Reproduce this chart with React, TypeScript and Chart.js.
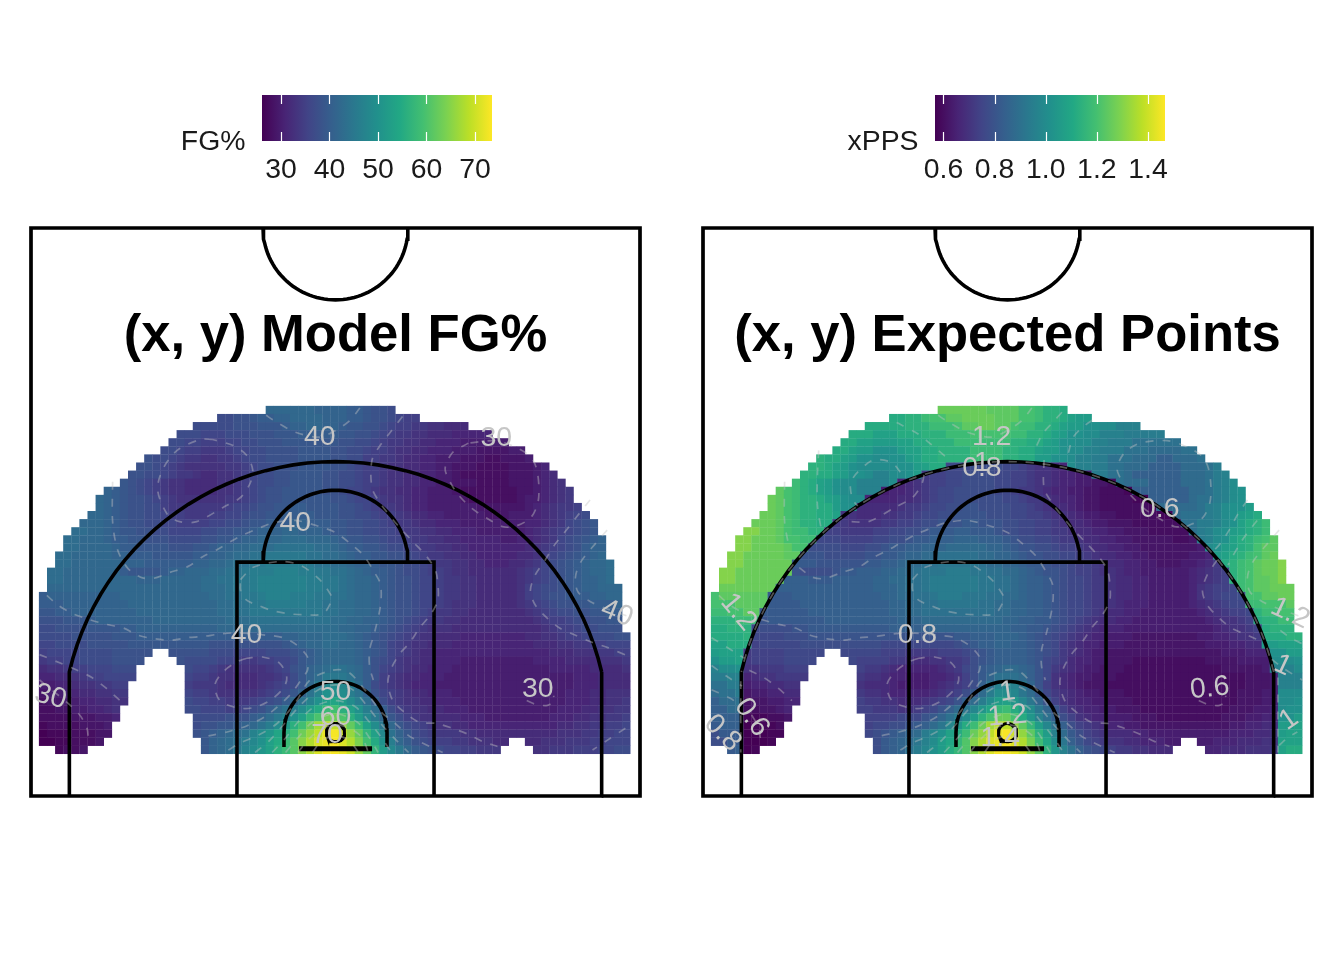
import React, { useEffect, useRef } from "react";
import { Chart, registerables } from "chart.js";

Chart.register(...registerables);

const FONT = "'Liberation Sans', Arial, sans-serif";

// one letter per heat cell: "." = no shots, otherwise an index into LEVELS
const LEVELS = "abcdefghijklmnopqrstuvwxyzABCDEFGHIJKLMNOPQRSTUV";
const fgBase = 26;
const fgStep = 1;
const xppsBase = 0.52;
const xppsStep = 0.02;

const fgRows = [
  ".......... .......... ........qq qqqqppppoo nmml...... .......... .......... ...",
  ".......... .......... ..llmmnoop pqqqqpppoo nmmlkjj... .......... .......... ...",
  ".......... .........l llllmmmnnn oppqqpponn mmlkjjiihh ggg....... .......... ...",
  ".......... .......lll kkklllmmmn nnooooonnm mlkjiihhgg gfffff.... .......... ...",
  ".......... ......llkk jjjkkllmmm nnnnnnnmml lkjiihhggf ffeeeeee.. .......... ...",
  ".......... .....llkjj iiijkkllmm mmnnnnmmll kjjihhggff feeeddddee .......... ...",
  ".......... ...mllkjii hhiijkllmm mmnnnnmmll jjiihggffe eedddccddd e......... ...",
  ".......... ..mmlkjihh hhhiijkllm mmnnnnmmlk jjihhggffe edddccccdd def....... ...",
  ".......... .mmllkjiih gghhijkllm mnnnnmmllk jjihhggffe edccccccdd defg...... ...",
  ".......... nmlkjihhgg gghhijkllm mnnnnmmllk jjihhggffe edddccccdd defgh..... ...",
  "........po nmlkjihhgg gghhijklmm nnnnnmmlkk jihhggffee edcccccccd defghi.... ...",
  ".......qpo nmmlkjihhh hhhiijklmm nnnnnnmmlk kjihhgffee eedccccccd eefghi.... ...",
  ".......qpo nmmlljiiii iiijkklmmn noonnnnmml kjiihgffee eeeedddddd efghiij... ...",
  "......qqpo nmmllkjjii ijjkklmmnn oooonnnmml lkjjihggff eeeeedddee efghijkl.. ...",
  ".....qqqpo nmmllkkjjj jkkllmnnoo oppooonnmm llkjiihggf ffeeeeeeee ffghiklmn. ...",
  "....rrqqpo nnmmllkkkk llmmnnoppp qqppponnmm llkkjiihhg gfffeeeeee fghijklmn. ...",
  "...rrqqqpo onnmmmllll mmnnoppqqq rrrqqqponn mmlkkjiihh ggfffffeef fghiklmnop ...",
  "...rrqqqqp oonnnnmmmn noppqqrrrs ssssrrqpoo nnmllkjiih hggfffffff ghijklmopp ...",
  "..rrqqqqqp pooonnnnno oppqrrsstt tttssrrqpo onnmmlkjii hhggfffffg ghjklmnopq ...",
  "..rrqqqqqq pppoooooop pqqrssttuu uuutssrrqp ponnmllkji ihhggfffgg hiklmnopqq r..",
  ".rrqqqqqqq onnnnoppqq qrrsstuuuv vvuuttssrq poonmllkjj ihhggggggh ijklmnopqq r..",
  ".rrqqqqqqq qqpppqqqqq rrssttuvvv vvvuuttsrq qponmmlkkj iihhgggggh ijklmnoppq r..",
  ".qqqqqqqqq qqqqqqqqqq rrrsttuvvv vvvuuttsrq qponmmlkkj iihhgggggh jkllmnoppq qq.",
  "oppppppppp qqqqqqqqqq qrrssttuvv vuuuttssrq qponmmlkkj iihhgggggh jklmmnoopp qq.",
  "oooppppppp pqqqqqqqqq qqrrssttuu uuuttssrrq qponmmlkkj ihhhgggggh ijklmmnnoo op.",
  "nnoopppppp ppqqqqqqqq qqrrsstttt tttttssrrq qponmmlkji ihhggggggg hijkllmmnn oo.",
  "mmmnnnoppp ppppqqqqqq qqqrrrssss ssssssrrqq pponmlkjii hhgggggggg ghijjkllmm nn.",
  "llmmmmnnnn oopppppppp ppqqqqqrrr rrrrrrrqqp ponmlkjihh hggggggggg gghijjkllm mm.",
  "llllmmmmmn nnoooooooo oooooooooo ppqqqrrrqp onmlkjihhg ggffffffff gghhijjkll lmm",
  "kkllllmmmm mnnnnnnnnn nmmmmmmmmm nopqqrrqqp onmkjihhgg gfffffffff fggghhiijj kkk",
  "jkkkkllllm mmmm..mmmm mlllkkkkll lmnopqqqqp onmkjihggf ffffffffff fffggghhhi ijj",
  "ijjkkllllm mmm....mll llkkjiijjk klnopqqqqp omlkihhggf ffeeeeeeee effffggggh hhi",
  "ghhijjkkkl ll......lk kjihhhhhij kmnpqrssrq omkjihggff feeeeeeeee eeefffffgg ggh",
  "ffgghijjkk kk......kj jihhggghhi jlnprtttsq omjihggfff eeeeeeeeee eeeeeefffg ggg",
  "eeffghhiij j.......ji iihgggghij klnqtwxwur oljihgfffe eeeeeeeeee eeeeeefffg ggg",
  "deeffgghhi i.......kj jihhhhhijk lnpsvyyxus pmkjihggff feeeeeeeee eeeeefffgg hhh",
  "cddeeffggh h.......lk kjjiiijklm oqsvyBCAxu roljihhggf ffeeeeeeee eeeeefffgg hhi",
  "ccddeeffgh ........ll kkkjjklmoq suxADGHEBy uroljihhgg fffeeeeeee eeeefffggh hii",
  "ccccdddeef .........l lllmmmoprt vyBFILLIEA wtqnljihhg ggfffeeeee eeefffgghh iij",
  "bccccddde. .........l mmnnopqsux AEHLPRROKG Bxtqnlkjih hggfffffff ffffgghhii jjk",
  "abbbcccdd. .........m nopqrsvxzC EHLORUVSOK FBwspnlkji iihhgggggg gggghhhiij jkk",
  "aabbcccd.. .......... npqrsuwyBD GJNQTUVTQM HDyuqomlkj jiihhhgg.. gghhhiiijj kkk",
  "..bccd.... .......... npqrtvxzBE GJNQTVVUSO KFAwtqonml kkjjiii... .hhiiijjjk kll",
];

const xppsRows = [
  ".......... .......... ........LL LLLLKKKKII HFFE...... .......... .......... ...",
  ".......... .......... ..EEFFHIIK KLLLLKKKII HFFECBB... .......... .......... ...",
  ".......... .........E EEEEFFFHHH IKKLLKKIHH FFECBBzzyy www....... .......... ...",
  ".......... .......EEE CCCEEEFFFH HHIIIIIHHF FECBzzyyww wvvvvv.... .......... ...",
  ".......... ......EECC BBBCCEEFFF HHHHHHHFFE ECBzzyywwv vvtttttt.. .......... ...",
  ".......... .....EECBB zzzBCCEEFF FFHHHHFFEE CBBzyywwvv vtttsssstt .......... ...",
  ".......... ...FEECBzz yyzzBCEEFF FFHHHHFFEE BBzzywwvvt ttsssqqsss t......... ...",
  ".......... ..FFECBzyy yyyzzBCEEm mmnnnnmmlk jjihywwvvt tsssqqqqss stv....... ...",
  ".......... .FFEECBzzy wwyyzBkllm mnnnnmmllk jjihhggvvt tsqqqqqqss stvw...... ...",
  ".......... HFECBzyyww wwyhijkllm mnnnnmmllk jjihhggffe tsssqqqqss stvwy..... ...",
  "........KI HFECBzyyww wghhijklmm nnnnnmmlkk jihhggffee edqqqqqqqs stvwyz.... ...",
  ".......LKI HFFECBzyyh hhhiijklmm nnnnnnmmlk kjihhgffee eedcqqqqqs ttvwyz.... ...",
  ".......LKI HFFEEBzzii iiijkklmmn noonnnnmml kjiihgffee eeeedsssss tvwyzzB... ...",
  "......LLKI HFFEECjjii ijjkklmmnn oooonnnmml lkjjihggff eeeeeddstt tvwyzBCE.. ...",
  ".....LLLKI HFFEEkkjjj jkkllmnnoo oppooonnmm llkjiihggf ffeeeeeett vvwyzCEFH. ...",
  "....NNLLKI HHFFllkkkk llmmnnoppp qqppponnmm llkkjiihhg gfffeeeeet vwyzBCEFH. ...",
  "...NNLLLKI IHHmmmllll mmnnoppqqq rrrqqqponn mmlkkjiihh ggfffffeef vwyzCEFHIK ...",
  "...NNLLLLK IInnnnmmmn noppqqrrrs ssssrrqpoo nnmllkjiih hggfffffff gyzBCEFIKK ...",
  "..NNLLLLLK Kooonnnnno oppqrrsstt tttssrrqpo onnmmlkjii hhggfffffg ghBCEFHIKL ...",
  "..NNLLLLLL pppoooooop pqqrssttuu uuutssrrqp ponnmllkji ihhggfffgg hikEFHIKLL N..",
  ".NNLLLLLLL onnnnoppqq qrrsstuuuv vvuuttssrq poonmllkjj ihhggggggh ijklFHIKLL N..",
  ".NNLLLLLLq qqpppqqqqq rrssttuvvv vvvuuttsrq qponmmlkkj iihhgggggh ijklFHIKKL N..",
  ".LLLLLLLqq qqqqqqqqqq rrrsttuvvv vvvuuttsrq qponmmlkkj iihhgggggh jkllmHIKKL LL.",
  "IKKKKKKppp qqqqqqqqqq qrrssttuvv vuuuttssrq qponmmlkkj iihhgggggh jklmmnIIKK LL.",
  "IIIKKKKppp pqqqqqqqqq qqrrssttuu uuuttssrrq qponmmlkkj ihhhgggggh ijklmmHHII IK.",
  "HHIIKKpppp ppqqqqqqqq qqrrsstttt tttttssrrq qponmmlkji ihhggggggg hijkllmFHH II.",
  "FFFHHHoppp ppppqqqqqq qqqrrrssss ssssssrrqq pponmlkjii hhgggggggg ghijjklEFF HH.",
  "EEFFFmnnnn oopppppppp ppqqqqqrrr rrrrrrrqqp ponmlkjihh hggggggggg gghijjklEF FF.",
  "EEEEFmmmmn nnoooooooo oooooooooo ppqqqrrrqp onmlkjihhg ggffffffff gghhijjkEE EFF",
  "CCEEElmmmm mnnnnnnnnn nmmmmmmmmm nopqqrrqqp onmkjihhgg gfffffffff fggghhiiBB CCC",
  "BCCCkllllm mmmm..mmmm mlllkkkkll lmnopqqqqp onmkjihggf ffffffffff fffggghhhz zBB",
  "zBBCkllllm mmm....mll llkkjiijjk klnopqqqqp omlkihhggf ffeeeeeeee effffggggy yyz",
  "wyyzjjkkkl ll......lk kjihhhhhij kmnpqrssrq omkjihggff feeeeeeeee eeefffffgw wwy",
  "vvwwhijjkk kk......kj jihhggghhi jlnprtttsq omjihggfff eeeeeeeeee eeeeeefffg www",
  "ttvvghhiij j.......ji iihgggghij klnqtwxwur oljihgfffe eeeeeeeeee eeeeeefffg www",
  "sttvfgghhi i.......kj jihhhhhijk lnpsvyyxus pmkjihggff feeeeeeeee eeeeefffgg yyy",
  "qssteffggh h.......lk kjjiiijklm oqsvyBCAxu roljihhggf ffeeeeeeee eeeeefffgg yyz",
  "qqsseeffgh ........ll kkkjjklmoq suxADGHEBy uroljihhgg fffeeeeeee eeeefffggh yzz",
  "qqqqdddeef .........l lllmmmoprt vyBFILLIEA wtqnljihhg ggfffeeeee eeefffgghh zzB",
  "pqqqcddde. .........l mmnnopqsux AEHLPRROKG Bxtqnlkjih hggfffffff ffffgghhii BBC",
  "npppcccdd. .........m nopqrsvxzC EHLORUVSOK FBwspnlkji iihhgggggg gggghhhiij BCC",
  "nnppcccd.. .......... npqrsuwyBD GJNQTUVTQM HDyuqomlkj jiihhhgg.. gghhhiiijj CCC",
  "..pqcd.... .......... npqrtvxzBE GJNQTVVUSO KFAwtqonml kkjjiii... .hhiiijjjk CEE",
];

// heat grid in court feet
const gridLeft = -24.34;
const gridTop = 32.27;
const cellW = 0.665;
const cellH = 0.6694;

// colour scales
const viridis = ["#440154", "#482475", "#414487", "#355F8D", "#2A788E", "#21908C", "#22A884", "#43BF71", "#7AD151", "#BBDF27", "#FDE725"];
const fgRange = [26.1, 73.5];
const xppsRange = [0.567, 1.4665];
const fgTicks = [30, 40, 50, 60, 70];
const xppsTicks = [0.6, 0.8, 1.0, 1.2, 1.4];

// contour paths, court feet
const c30Right = [[10.9,29.2],[9.6,28.4],[9,27.1],[9.4,26],[10.1,24.9],[11.2,23.8],[12.4,23],[13.7,22.3],[14.7,22.3],[16,23],[16.6,24.2],[16.7,25.6],[16.5,27.1],[16,28.1],[14.7,28.9],[13.1,29.4],[10.9,29.2]];
const c35Left = [[-10.1,29.5],[-11.1,29.5],[-13,28.6],[-14.2,27],[-14.6,25.3],[-13.8,23.3],[-12.8,22.7],[-11.4,22.7],[-9.2,23.9],[-7.8,24.7],[-7,25.9],[-6.8,27],[-7.3,28.2],[-8.4,29],[-10.1,29.5]];
const c45Key = [[-7.8,17.9],[-6.8,18.9],[-4.6,19.4],[-2.9,19.1],[-1.3,17.9],[-0.3,16.5],[-0.3,16.2],[-1,15.1],[-2.7,15],[-4,15.1],[-5.4,15.4],[-6.4,15.8],[-7.3,16.2],[-7.8,17],[-7.8,17.9]];
const c35Mid = [[-7.3,11.4],[-8.1,11.1],[-9.2,10.3],[-9.9,9.2],[-9.5,7.9],[-8.1,7.3],[-6.8,7.3],[-5.4,7.9],[-4.3,8.9],[-4,9.8],[-4.6,11],[-6,11.5],[-7.3,11.4]];
const c40Upper = [[-18.3,26],[-18.3,22.7],[-17.9,20.4],[-17.1,18.9],[-16,18.1],[-15,18],[-13.6,18.5],[-12.1,19],[-10.9,19.8],[-9.7,20.4],[-8.7,21],[-7.6,21.6],[-6.2,22.2],[-5.1,22.6],[-3.3,22.8],[-1.3,22.3],[0,21.8],[1.2,20.9],[2.3,19.9],[3.2,18.5],[3.7,17.5],[3.7,15.8],[3.2,13.5],[2.8,12.1],[2.8,10.7],[3.1,9.6]];
const c40Top = [[-5.7,31.5],[-5.1,31.1],[-3.3,30.1],[-1.3,29.7],[0.1,30.3],[1.2,31.1],[2,32.1]];
const c35Right = [[5.5,31.4],[4.5,30.1],[3.8,29.2],[3,27.8],[3,25.5],[3.7,24.2],[5.1,22.4],[6.4,21],[7.5,19.8],[8.2,18.7],[8.4,17.6],[8.4,16.2],[7.8,15],[6.9,13.9],[6.1,12.7],[5.3,11.8],[4.6,10.6],[4.3,9.4],[4.7,7.9],[5.7,6.9],[6.9,6.1],[8.3,6],[9.6,5.6],[10.9,5.1],[12.1,4.5],[13.3,4.1]];
const c35Side = [[20.9,24.5],[19.8,23.1],[18.8,21.8],[18,20.8],[17.2,19.5],[16.4,18.3],[16,17],[16.4,15.8],[17.4,14.7],[18.4,13.9],[19.7,13.3],[21.1,12.7],[22.3,12.3],[24.2,11.5]];
const c40Side = [[22.3,22],[21.1,20.6],[20.1,19.3],[19.7,18.1],[19.9,16.9],[20.9,16.1],[22,15.6],[24.2,14.8]];
const c40Lower = [[-23.7,16.6],[-22.8,15.8],[-21.6,15.1],[-20.2,14.6],[-18.8,14.2],[-17.4,13.9],[-16.2,13.3],[-14.8,13],[-13.4,12.9],[-12.2,13.1],[-10.9,13.2],[-9.5,13.4],[-8.1,13.5],[-5.6,13.3],[-4.3,13.1],[-3.2,12.5],[-2.3,11.5],[-2.3,10.4],[-2.7,9.8],[-3.7,8.4],[-5.6,6.7],[-7.3,5.8],[-8.9,5.3],[-10.3,5],[-11.1,4.8]];
const c35Corner = [[-24.3,11.7],[-22.6,11],[-21.2,10.4],[-20,9.8],[-18.8,8.9],[-17.7,7.9]];
const c30Corner = [[-24.3,9.6],[-22,7.7],[-21,6.7],[-20.4,5.6],[-20.3,4.8]];
const c30Small = [[15.7,7.9],[16.4,7.6],[17.4,7.5],[18,7.9],[17.9,8.3]];
const c35Base = [[23.8,5.6],[22.3,4.6],[21.1,3.8]];
const ring45 = [[-8.8,3.8],[-7.8,4.4],[-6.4,5],[-4.8,6],[-3.3,7.7],[-2.1,9.6],[-0.3,10.4],[1,10.3],[2.4,8.8],[3.7,7],[4.9,6],[6,5],[6.9,4.5],[8.8,3.6]];
const ring50 = [[-6.6,3.6],[-5.4,4.6],[-4.1,6.1],[-2.9,7.5],[-1.4,8.8],[0,9.2],[1.4,8.8],[2.7,7.3],[3.8,5.9],[5.1,4.5],[6,3.6]];
const ring55 = [[-5.2,3.6],[-4.1,4.8],[-3.1,6.1],[-1.7,7.4],[0,7.9],[1.6,7.4],[2.8,6.1],[3.8,4.8],[4.6,3.6]];
const ring60 = [[-4.1,3.6],[-3.1,4.8],[-1.9,6.1],[0,6.8],[1.8,6.1],[2.8,4.8],[3.5,3.6]];
const ring65 = [[-3.1,3.6],[-2.1,4.8],[-1.1,5.6],[0,5.9],[1.2,5.6],[2.2,4.8],[2.7,3.6]];
const ring70 = [[-1.9,3.6],[-1.1,4.6],[0,5],[1.1,4.6],[1.9,3.6]];

// contours that exist only on the expected-points surface
const x110TopLeft = [[-9.1,30.9],[-7.4,30],[-6.4,29.2],[-5.1,28.1]];
const x110TopRight = [[2.4,29],[2.9,30],[3.7,30.9],[4.6,31.9]];
const x100TopRight = [[5,28.4],[5.4,29.7],[6.4,30.7],[7.3,31.3]];
const x100Right = [[19.7,24.5],[18.9,23.3],[18.2,22],[17.4,20.8],[16.6,20]];
const x110Right = [[20.5,22.8],[19.7,21.8],[19.1,20.9],[18.3,19.5],[18.1,19.1]];
const x100Left = [[-8.8,26.8],[-9.5,27.6],[-11,27.8],[-12.3,26.8],[-12.8,26.1],[-12.9,25.5],[-12.7,24.5],[-12.3,24]];
const x110Left = [[-15.5,28.6],[-15.6,26.7],[-15.6,24],[-15.2,21.6]];
const x110LowLeft = [[-24.3,13.1],[-22.4,11.9],[-21.6,11.4]];
const x100LowLeft = [[-24.3,10.8],[-22.9,9.8],[-21.8,9.1]];
const x090LowLeft = [[-24.3,8.8],[-22.8,8.1],[-21.9,7.5]];
const x110LowRight = [[22.4,13.7],[23.2,13.1],[24.2,12.6]];
const x100LowRight = [[21.7,11.3],[22.6,10.6],[24.2,9.6]];
const x100Base = [[22.3,4.2],[23.1,4.9],[23.8,5.3]];
const edgeRight = [[22.2,9.8],[22.2,3.6]];
const edgeLeft = [[-21.9,9.5],[-21.9,3.6]];

const fgContours = [c30Right, c35Left, c45Key, c35Mid, c40Upper, c40Top, c35Right, c35Side, c40Side, c40Lower, c35Corner, c30Corner, c30Small, c35Base, ring45, ring50, ring55, ring60, ring65, ring70];

// contour labels: text, x ft, y ft, rotation degrees
const fgLabels = [
  ["40", -1.3, 29.7, 0], ["30", 13.2, 29.6, 0], ["40", -3.3, 22.6, 0], ["40", 23.1, 15.1, 22], ["40", -7.3, 13.3, 0],
  ["30", -23.4, 8.2, 15], ["30", 16.6, 8.8, 0], ["50", 0, 8.6, 0], ["60", 0, 6.5, 0], ["70", -0.7, 5, 0],
];
const xppsLabels = [
  ["1.2", -1.3, 29.7, 0], ["0.8", -2.1, 27.1, 0], ["1", -2.1, 27.5, 0], ["0.6", 12.5, 23.7, 0], ["1.2", -22.1, 15.2, 50],
  ["0.8", -7.4, 13.3, 0], ["1.2", 23.2, 15.1, 25], ["1", 22.6, 10.8, 25], ["1", 23.1, 6.3, -35], ["0.6", 16.6, 8.9, -6],
  ["0.8", -23.4, 5.2, 45], ["0.6", -21, 6.5, 55], ["1", 0, 8.6, -8], ["1.2", 0, 6.6, -5], ["1.4", -0.6, 4.8, 0],
];

// court geometry, feet
const hoopY = 5.25;
const threeX = 21.85;
const threeR = 22.42;
const threeAngle = 12.9;
const keyX = 8.09;
const keyY = 19.35;
const circleR = 5.95;
const restrictedR = 4.23;
const boardY = 3.9;

function arc(cx: number, cy: number, r: number, from: number, to: number) {
  const pts: number[][] = [];
  const n = Math.ceil(Math.abs(to - from) / 3);
  for (let i = 0; i <= n; i++) {
    const a = ((from + ((to - from) * i) / n) * Math.PI) / 180;
    pts.push([cx + r * Math.cos(a), cy + r * Math.sin(a)]);
  }
  return pts;
}

const threeArc = arc(0, hoopY, threeR, threeAngle, 180 - threeAngle);
const courtLines = [
  { pts: [[-25, 1], [-25, 47], [25, 47], [25, 0], [-25, 0], [-25, 1]], w: 3.7 },
  { pts: [[-keyX, 0], [-keyX, keyY], [keyX, keyY], [keyX, 0]], w: 3.6 },
  { pts: [[threeX, 0], [threeX, hoopY + 5.01], ...threeArc, [-threeX, hoopY + 5.01], [-threeX, 0]], w: 3.6 },
  { pts: arc(0, keyY, circleR, 0, 180), w: 3.6 },
  { pts: arc(0, 47, circleR, 180, 360), w: 3.6 },
  { pts: [[restrictedR, 4.05], ...arc(0, hoopY, restrictedR, 0, 180), [-restrictedR, 4.05]], w: 3.6 },
  { pts: [[-3, boardY], [3, boardY]], w: 5 },
  { pts: arc(0, hoopY, 0.75, 0, 360), w: 3 },
];

const xppsContours = [
  c30Right.slice(4, 9), c30Right.slice(8).concat(c30Right.slice(1, 4)), c35Left.slice(6, 12), c45Key, c35Mid,
  c40Upper.slice(3), c40Upper.slice(0, 3), c40Top, c35Right.slice(3), c35Side.slice(4, 12), c40Side,
  c40Lower.slice(3), c40Lower.slice(0, 3), c35Corner.slice(2), c30Corner.slice(2), c30Small,
  ring45, ring50, ring55, ring60, ring65, ring70,
  x110TopLeft, x110TopRight, x100TopRight, x100Right, x110Right, x100Left, x110Left,
  x110LowLeft, x100LowLeft, x090LowLeft, x110LowRight, x100LowRight, x100Base, edgeRight, edgeLeft, threeArc,
];

function colourFor(v: number, range: number[]) {
  const t = Math.min(1, Math.max(0, (v - range[0]) / (range[1] - range[0]))) * (viridis.length - 1);
  const i = Math.min(viridis.length - 2, Math.floor(t));
  const f = t - i;
  const hex = (s: string, k: number) => parseInt(s.slice(1 + 2 * k, 3 + 2 * k), 16);
  const ch = (k: number) => Math.round(hex(viridis[i], k) * (1 - f) + hex(viridis[i + 1], k) * f);
  return `rgb(${ch(0)},${ch(1)},${ch(2)})`;
}

function cells(rows: string[], base: number, step: number) {
  const out: { x: number; y: number; v: number }[] = [];
  rows.forEach((row, r) => {
    row.replace(/ /g, "").split("").forEach((ch, c) => {
      if (ch === ".") return;
      out.push({ x: gridLeft + (c + 0.5) * cellW, y: gridTop - (r + 0.5) * cellH, v: base + step * LEVELS.indexOf(ch) });
    });
  });
  return out;
}

type Panel = {
  title: string;
  legend: string;
  rows: string[];
  base: number;
  step: number;
  range: number[];
  ticks: number[];
  digits: number;
  contours: number[][][];
  labels: (string | number)[][];
  barLeft: number;
  barRight: number;
};

const panels: Panel[] = [
  { title: "(x, y) Model FG%", legend: "FG%", rows: fgRows, base: fgBase, step: fgStep, range: fgRange, ticks: fgTicks, digits: 0, contours: fgContours, labels: fgLabels, barLeft: 262, barRight: 492 },
  { title: "(x, y) Expected Points", legend: "xPPS", rows: xppsRows, base: xppsBase, step: xppsStep, range: xppsRange, ticks: xppsTicks, digits: 1, contours: xppsContours, labels: xppsLabels, barLeft: 263, barRight: 493 },
];

const toXY = (pts: number[][]) => pts.map(([x, y]) => ({ x, y }));

function courtChart(canvas: HTMLCanvasElement, p: Panel) {
  const heat = cells(p.rows, p.base, p.step);
  const colours = heat.map((d) => colourFor(d.v, p.range));
  const textPlugin = {
    id: "courtText",
    afterDatasetsDraw(chart: any) {
      const { ctx, scales } = chart;
      ctx.save();
      ctx.textAlign = "center";
      ctx.textBaseline = "middle";
      ctx.fillStyle = "#c6c6c6";
      ctx.font = `28.4px ${FONT}`;
      p.labels.forEach(([text, x, y, rot]) => {
        ctx.save();
        ctx.translate(scales.x.getPixelForValue(x), scales.y.getPixelForValue(y));
        ctx.rotate(((rot as number) * Math.PI) / 180);
        ctx.fillText(text as string, 0, 0);
        ctx.restore();
      });
      ctx.fillStyle = "#000000";
      ctx.font = `bold 52.6px ${FONT}`;
      ctx.fillText(p.title, scales.x.getPixelForValue(0), scales.y.getPixelForValue(38.05));
      ctx.restore();
    },
  };
  return new Chart(canvas, {
    type: "scatter",
    data: {
      datasets: [
        ...p.contours.map((pts) => ({
          data: toXY(pts), showLine: true, pointRadius: 0, borderColor: "rgba(195,195,195,0.42)", borderWidth: 1.7,
          borderDash: [8, 9], tension: 0.3, clip: false, order: 1,
        })),
        ...courtLines.map((l) => ({
          data: toXY(l.pts), showLine: true, pointRadius: 0, borderColor: "#000000", borderWidth: l.w,
          borderJoinStyle: "miter", tension: 0, clip: false, order: 2,
        })),
        {
          data: heat, showLine: false, pointStyle: "rect", pointRadius: 5.95, pointBackgroundColor: colours,
          pointBorderWidth: 0, clip: false, order: 3,
        },
      ] as any,
    },
    options: {
      responsive: false,
      animation: false,
      events: [],
      layout: { padding: { left: 31, right: 32, top: 28, bottom: 44 } },
      plugins: { legend: { display: false }, tooltip: { enabled: false } },
      scales: {
        x: { type: "linear", min: -25, max: 25, display: false },
        y: { type: "linear", min: 0, max: 47, display: false },
      },
    },
    plugins: [textPlugin],
  } as any);
}

function legendChart(canvas: HTMLCanvasElement, p: Panel) {
  const barPlugin = {
    id: "colourBar",
    afterDraw(chart: any) {
      const { ctx, chartArea: a, scales } = chart;
      ctx.save();
      const g = ctx.createLinearGradient(a.left, 0, a.right, 0);
      viridis.forEach((c, i) => g.addColorStop(i / (viridis.length - 1), c));
      ctx.fillStyle = g;
      ctx.fillRect(a.left, a.top, a.right - a.left, a.bottom - a.top);
      ctx.strokeStyle = "#ffffff";
      ctx.lineWidth = 1.2;
      p.ticks.forEach((t) => {
        const x = Math.round(scales.x.getPixelForValue(t)) + 0.5;
        ctx.beginPath();
        ctx.moveTo(x, a.top);
        ctx.lineTo(x, a.top + 9);
        ctx.moveTo(x, a.bottom - 9);
        ctx.lineTo(x, a.bottom);
        ctx.stroke();
      });
      ctx.fillStyle = "#1a1a1a";
      ctx.font = `28.4px ${FONT}`;
      ctx.textAlign = "right";
      ctx.textBaseline = "middle";
      ctx.fillText(p.legend, a.left - 16.5, a.bottom + 1);
      ctx.restore();
    },
  };
  return new Chart(canvas, {
    type: "scatter",
    data: { datasets: [] },
    options: {
      responsive: false,
      animation: false,
      events: [],
      layout: { padding: { left: p.barLeft, right: 672 - p.barRight, top: 15, bottom: 0 } },
      plugins: { legend: { display: false }, tooltip: { enabled: false } },
      scales: {
        x: {
          type: "linear", min: p.range[0], max: p.range[1], position: "bottom",
          grid: { display: false, drawTicks: false }, border: { display: false },
          afterBuildTicks: (s: any) => { s.ticks = p.ticks.map((value) => ({ value })); },
          afterFit: (s: any) => { s.height = 49; },
          ticks: {
            autoSkip: false, maxRotation: 0, padding: 12, color: "#1a1a1a",
            font: { family: FONT, size: 28.4 },
            callback: (v: any) => Number(v).toFixed(p.digits),
          },
        },
        y: { type: "linear", min: 0, max: 1, display: false },
      },
    },
    plugins: [barPlugin],
  } as any);
}

export default function App() {
  const refs = useRef<(HTMLCanvasElement | null)[]>([]);
  useEffect(() => {
    document.body.style.margin = "0";
    const charts = panels.flatMap((p, i) => [
      courtChart(refs.current[i * 2]!, p),
      legendChart(refs.current[i * 2 + 1]!, p),
    ]);
    return () => charts.forEach((c) => c.destroy());
  }, []);
  return (
    <div style={{ position: "absolute", left: 0, top: 0, width: 1344, height: 960, background: "#fff", overflow: "hidden" }}>
      {panels.map((p, i) => (
        <React.Fragment key={p.legend}>
          <canvas ref={(el) => { refs.current[i * 2] = el; }} width={672} height={640}
            style={{ position: "absolute", left: i * 672, top: 200, width: 672, height: 640 }} />
          <canvas ref={(el) => { refs.current[i * 2 + 1] = el; }} width={672} height={110}
            style={{ position: "absolute", left: i * 672, top: 80, width: 672, height: 110 }} />
        </React.Fragment>
      ))}
    </div>
  );
}
